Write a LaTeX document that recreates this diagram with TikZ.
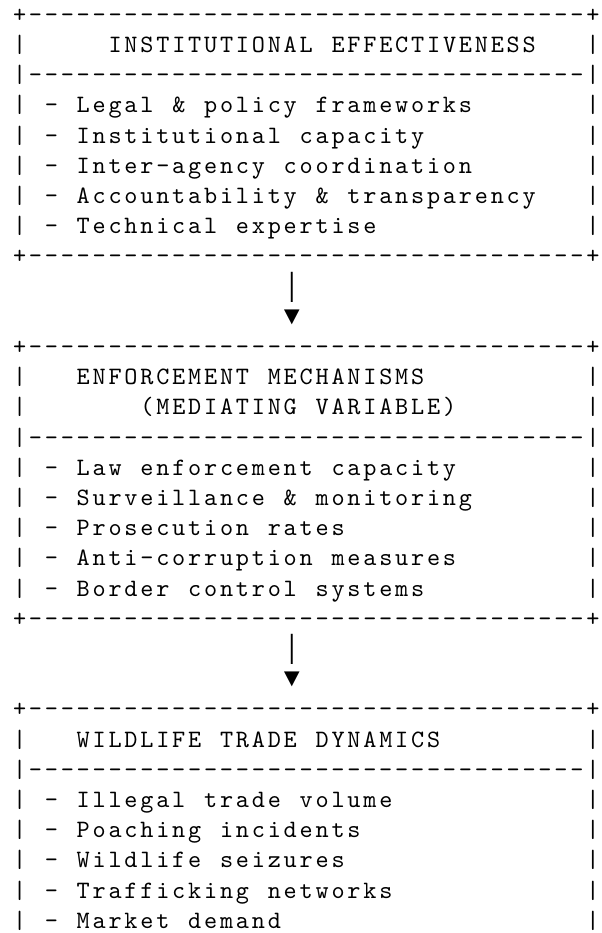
\documentclass[tikz,border=0pt]{standalone}
\usepackage{fontspec}
\newfontfamily\asciifont{lmmono10-regular.otf}[LetterSpace=11.2]
\newfontfamily\glyphfont{Liberation Mono}
% word gaps widened so every character keeps its own cell
\newcommand\asciisize{\fontsize{12.5pt}{15.1pt}\selectfont\fontdimen2\font=9.3675pt\relax}

\begin{document}
\begin{tikzpicture}[
  x=7.965pt, y=-15.1pt,
  txt/.style={font={\asciifont\asciisize}, anchor=base west, inner sep=0pt, outer sep=0pt},
  sym/.style={font={\glyphfont\fontsize{13.33pt}{15.1pt}\selectfont},
    anchor=base west, inner sep=0pt, outer sep=0pt},
]
  \useasboundingbox (0,0) rectangle (300.5pt,-466.5pt);
  \begin{scope}[shift={(6.5pt,-11.1pt)}]
  % institutional box
  \node[txt] (inst top) at (0,0) {+-----------------------------------+};
  \node[txt] (inst head) at (6,1) {INSTITUTIONAL EFFECTIVENESS};
  \node[txt] (inst sep) at (0,2) {|-----------------------------------|};
  \foreach \t [count=\i from 3] in {Legal \& policy frameworks, Institutional capacity,
      Inter-agency coordination, Accountability \& transparency, Technical expertise}
    \node[txt] (inst\i) at (0,\i) {| - \t};
  \node[txt] (inst bot) at (0,8) {+-----------------------------------+};
  \node[sym] (arr a) at (17,9) {│};
  \node[sym] (tip a) at (17,10) {▼};

  % enforcement box
  \node[txt] (enf top) at (0,11) {+-----------------------------------+};
  \node[txt] (enf head) at (4,12) {ENFORCEMENT MECHANISMS};
  \node[txt] (enf sub) at (8,13) {(MEDIATING VARIABLE)};
  \node[txt] (enf sep) at (0,14) {|-----------------------------------|};
  \foreach \t [count=\i from 15] in {Law enforcement capacity, Surveillance \& monitoring,
      Prosecution rates, Anti-corruption measures, Border control systems}
    \node[txt] (enf\i) at (0,\i) {| - \t};
  \node[txt] (enf bot) at (0,20) {+-----------------------------------+};
  \node[sym] (arr b) at (17,21) {│};
  \node[sym] (tip b) at (17,22) {▼};

  % wildlife trade box
  \node[txt] (trade top) at (0,23) {+-----------------------------------+};
  \node[txt] (trade head) at (4,24) {WILDLIFE TRADE DYNAMICS};
  \node[txt] (trade sep) at (0,25) {|-----------------------------------|};
  \foreach \t [count=\i from 26] in {Illegal trade volume, Poaching incidents,
      Wildlife seizures, Trafficking networks, Market demand}
    \node[txt] (trade\i) at (0,\i) {| - \t};

  % walls beside the headings, and the right-hand walls
  \foreach \r in {1,12,13,24}
    \node[txt] (lwall\r) at (0,\r) {|};
  \foreach \r in {1,3,4,5,6,7,12,13,15,16,17,18,19,24,26,27,28,29,30}
    \node[txt] (wall\r) at (36,\r) {|};
  \end{scope}
\end{tikzpicture}
\end{document}
